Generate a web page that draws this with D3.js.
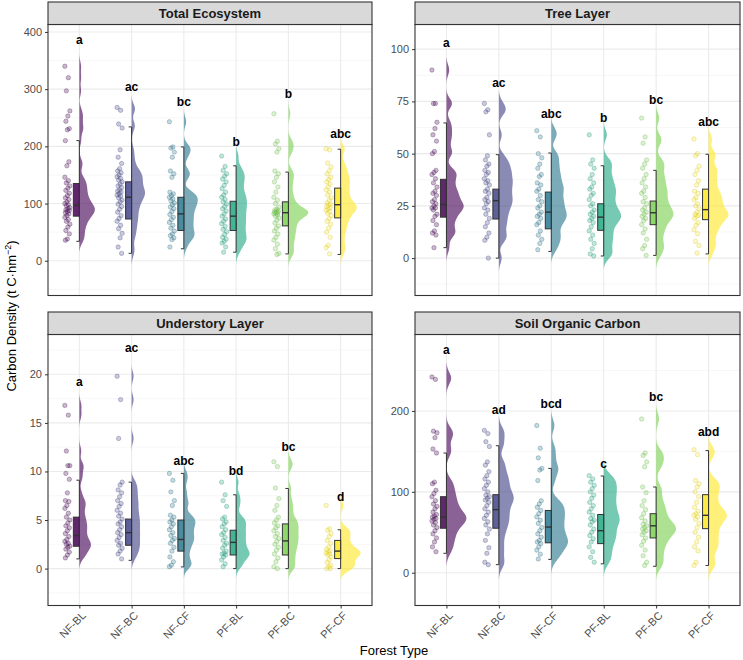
<!DOCTYPE html>
<html>
<head>
<meta charset="utf-8">
<script src="https://cdn.jsdelivr.net/npm/d3@7"></script>
<style>
  body { margin: 0; background: #fff; }
  svg { font-family: "Liberation Sans", Arial, sans-serif; }
  .tick text { fill: #4d4d4d; font-size: 11px; }
  .tick line { stroke: #333; }
</style>
</head>
<body>
<div id="chart"></div>
<script>
const categories = ['NF-BL', 'NF-BC', 'NF-CF', 'PF-BL', 'PF-BC', 'PF-CF'];
const colors = ['#440154', '#414487', '#2A788E', '#22A884', '#7AD151', '#FDE725'];
const panelTitles = ['Total Ecosystem', 'Tree Layer', 'Understory Layer', 'Soil Organic Carbon'];

// Total Ecosystem
const totalPoints = [
  [340, 320, 297, 262, 253, 244, 231, 229, 210, 173, 166, 146, 140, 136, 131, 127, 123, 118, 114, 110, 107, 103, 100, 98, 96, 93, 91, 89, 88, 86, 84, 82, 79, 76, 72, 69, 64, 59, 53, 47, 38, 36],
  [268, 263, 239, 232, 194, 181, 170, 161, 157, 154, 150, 147, 144, 141, 138, 134, 131, 128, 124, 122, 120, 117, 115, 113, 110, 106, 103, 99, 95, 90, 85, 79, 74, 69, 62, 56, 48, 40, 24, 13],
  [243, 199, 197, 190, 181, 157, 152, 146, 120, 117, 114, 111, 108, 105, 101, 98, 94, 91, 86, 81, 76, 72, 67, 62, 57, 52, 47, 44, 40, 37, 24],
  [183, 165, 158, 152, 148, 143, 138, 132, 126, 120, 115, 111, 107, 103, 99, 95, 91, 87, 82, 78, 73, 69, 65, 60, 55, 51, 46, 41, 38, 34, 31, 24, 15],
  [257, 209, 204, 196, 190, 157, 152, 146, 138, 129, 120, 111, 106, 100, 94, 90, 89, 87, 86, 85, 84, 83, 82, 80, 78, 75, 71, 66, 61, 57, 52, 47, 41, 36, 29, 21, 13, 11],
  [196, 194, 171, 164, 157, 152, 146, 142, 138, 134, 129, 124, 120, 115, 110, 106, 101, 99, 97, 95, 93, 91, 88, 86, 83, 79, 74, 69, 64, 57, 50, 41, 27, 23, 12]
];
const totalBox = [[34, 78, 97, 135, 210], [13, 73, 111, 138, 234], [21, 53, 82, 111, 199], [15, 53, 78, 104, 166], [12, 61, 84, 103, 155], [11, 75, 98, 127, 195]];
const totalLetters = ['a', 'ac', 'bc', 'b', 'b', 'abc'];
const totalLetterY = [387, 304, 278, 208, 292, 222];
const totalTicks = [0, 100, 200, 300, 400];

// Tree Layer
const treePoints = [
  [90, 74, 74, 65, 62, 59, 56, 51, 50, 42, 41, 40, 38, 36, 34, 32, 31, 30, 28, 27, 26, 25, 24, 24, 23, 21, 20, 18, 16, 13, 12, 11, 5],
  [74, 71, 70, 59, 49, 47, 45, 44, 42, 41, 40, 38, 37, 36, 35, 33, 32, 31, 29, 28, 27, 26, 24, 23, 21, 19, 17, 15, 12, 10, 8.5, 0],
  [61, 58, 50, 48, 45, 43, 40, 39, 36, 35, 33, 32, 30, 28, 27, 25, 24, 22, 21, 20, 19, 17, 16, 13, 11, 9, 7, 4],
  [59, 47, 45, 43, 40, 38, 36, 34, 33, 31, 30, 28, 26, 25, 23, 22, 21, 20, 19, 18, 17, 15, 13, 11, 9, 7, 4.5, 2, 1],
  [67, 58, 55, 47, 45, 43, 40, 38, 36, 34, 32, 31, 29, 27, 26, 24, 23, 22, 21, 20, 19, 18, 16, 14, 12, 9, 6, 4.5, 1.3],
  [57, 50, 49, 44, 42, 40, 37, 35, 32, 31, 29, 28, 26, 25, 23.5, 22, 21, 20.5, 20, 19, 17, 15.7, 13.6, 11.7, 8, 6, 2.4]
];
const treeBox = [[5, 19.6, 25.7, 37.7, 64.7], [0, 18.7, 27.5, 33, 49.5], [3.2, 14, 22, 31.6, 50.3], [1, 13.3, 19.6, 26, 44.2], [1.3, 16, 21.7, 27.3, 42], [2, 18.4, 23.2, 33, 49.7]];
const treeLetters = ['a', 'ac', 'abc', 'b', 'bc', 'abc'];
const treeLetterY = [103, 84, 69, 67, 76, 65];
const treeTicks = [0, 25, 50, 75, 100];

// Understory Layer
const underPoints = [
  [16.8, 15.8, 12.1, 10.6, 10.6, 9.8, 9.2, 7.8, 7.0, 6.9, 6.5, 6.2, 5.7, 5.3, 5.0, 4.7, 4.4, 4.2, 3.9, 3.6, 3.3, 3.0, 2.8, 2.6, 2.5, 2.3, 2.2, 2.0, 1.7, 1.4, 1.1],
  [19.8, 17.4, 13.4, 8.9, 8.6, 8.1, 7.8, 7.4, 7.0, 6.7, 6.4, 6.0, 5.7, 5.4, 5.1, 4.8, 4.6, 4.3, 4.0, 3.7, 3.5, 3.2, 2.9, 2.6, 2.4, 2.1, 1.8, 1.5, 1.0],
  [9.8, 9.1, 7.9, 7.0, 6.5, 5.5, 5.3, 5.0, 4.8, 4.6, 4.3, 4.0, 3.7, 3.4, 3.1, 2.9, 2.6, 2.2, 1.8, 1.2, 0.7, 0.35, 0.2],
  [8.9, 7.6, 7.0, 6.4, 5.3, 5.1, 4.8, 4.6, 4.3, 4.0, 3.7, 3.5, 3.2, 2.9, 2.6, 2.4, 2.1, 1.8, 1.6, 1.5, 1.4, 1.2, 0.9, 0.5, 0.2],
  [11.0, 10.5, 8.3, 7.2, 6.5, 6.0, 5.3, 5.0, 4.7, 4.4, 4.2, 3.9, 3.6, 3.3, 3.1, 2.8, 2.5, 2.2, 1.9, 1.5, 1.1, 0.7, 0.2, 0],
  [6.5, 4.1, 3.95, 3.6, 3.3, 2.9, 2.6, 2.2, 2.0, 1.8, 1.7, 1.6, 1.5, 1.4, 1.2, 0.9, 0.65, 0.35, 0.2, 0, 0]
];
const underBox = [[1.0, 2.3, 3.4, 5.3, 9.1], [0.85, 2.4, 3.7, 5.1, 8.9], [0.17, 1.8, 3.0, 5.0, 9.8], [0, 1.4, 2.7, 3.95, 7.6], [0, 1.4, 2.85, 4.6, 8.25], [0, 1.03, 1.8, 2.9, 4.0]];
const underLetters = ['a', 'ac', 'abc', 'bd', 'bc', 'd'];
const underLetterY = [19.2, 22.7, 11.1, 10.1, 12.5, 7.4];
const underTicks = [0, 5, 10, 15, 20];

// Soil Organic Carbon
const soilPoints = [
  [242, 239, 175, 173, 167, 153, 148, 112, 110, 102, 98, 94, 89, 85, 82, 79, 75, 72, 70, 69, 67, 66, 64, 62, 59, 56, 52, 48, 43, 38, 32, 26],
  [176, 172, 162, 156, 137, 133, 125, 120, 116, 112, 108, 104, 100, 96, 94, 92, 90, 87, 83, 79, 75, 71, 67, 63, 59, 54, 48, 40, 31, 24, 13, 10],
  [182, 154, 142, 129, 127, 114, 89, 85, 81, 77, 73, 69, 65, 61, 56, 52, 48, 44, 40, 38, 36, 32, 28, 23, 17],
  [120, 116, 112, 108, 104, 100, 96, 92, 87, 83, 79, 75, 71, 67, 65, 63, 59, 54, 50, 46, 42, 38, 32, 26, 19, 13],
  [190, 148, 145, 137, 131, 106, 99, 89, 83, 78, 73, 68, 64, 60, 58, 56, 54, 52, 50, 47, 43, 39, 34, 28, 21, 13, 9],
  [152, 146, 114, 110, 106, 100, 94, 87, 81, 76, 73, 71, 69, 66, 61, 56, 50, 44, 38, 32, 27, 13, 9]
];
const soilBox = [[24, 55, 69, 94, 148], [10, 55, 78, 96.5, 157], [16.5, 37, 56.5, 77, 129], [11, 36, 52, 72, 119.6], [8, 43, 58, 73, 106], [9, 54.5, 71, 96.5, 151]];
const soilLetters = ['a', 'ad', 'bcd', 'c', 'bc', 'abd'];
const soilLetterY = [276, 201, 209, 135, 217, 174];
const soilTicks = [0, 100, 200];

const width = 743;
const height = 660;

const panels = [
  { title: panelTitles[0], points: totalPoints, box: totalBox, letters: totalLetters, letterY: totalLetterY, ticks: totalTicks,
    domain: [-60.7, 413], bw: 8, x: 48, y: 24.5, w: 324, h: 271, xAxis: false },
  { title: panelTitles[1], points: treePoints, box: treeBox, letters: treeLetters, letterY: treeLetterY, ticks: treeTicks,
    domain: [-17.9, 111.8], bw: 2.4, x: 415, y: 24.5, w: 325, h: 271, xAxis: false },
  { title: panelTitles[2], points: underPoints, box: underBox, letters: underLetters, letterY: underLetterY, ticks: underTicks,
    domain: [-3.8, 24.1], bw: 0.45, x: 48, y: 334.5, w: 324, h: 271, xAxis: true },
  { title: panelTitles[3], points: soilPoints, box: soilBox, letters: soilLetters, letterY: soilLetterY, ticks: soilTicks,
    domain: [-40.5, 294.5], bw: 7, x: 415, y: 334.5, w: 325, h: 271, xAxis: true }
];

const svg = d3.select('#chart')
  .append('svg')
  .attr('width', width)
  .attr('height', height);

const gauss = (u) => Math.exp(-0.5 * u * u) / Math.sqrt(2 * Math.PI);

function kde(values, bw) {
  const lo = d3.min(values) - 2.5 * bw;
  const hi = d3.max(values) + 2.5 * bw;
  return d3.range(101).map(i => {
    const g = lo + (hi - lo) * i / 100;
    return [g, d3.mean(values, v => gauss((g - v) / bw)) / bw];
  });
}

// small fixed horizontal jitter pattern for the points
const jitter = (i) => ((i * 7) % 11) / 10 - 0.5;

panels.forEach(p => {
  const g = svg.append('g').attr('transform', `translate(${p.x},${p.y})`);

  const x = d3.scalePoint().domain(categories).range([0, p.w]).padding(0.6);
  const y = d3.scaleLinear().domain(p.domain).range([p.h, 0]);

  // grid
  const step = p.ticks[1] - p.ticks[0];
  const minor = d3.range(p.ticks[0] - step / 2, p.domain[1], step).filter(v => v > p.domain[0]);
  g.selectAll('.minor').data(minor).enter().append('line')
    .attr('x1', 0).attr('x2', p.w)
    .attr('y1', d => y(d)).attr('y2', d => y(d))
    .attr('stroke', '#f2f2f2').attr('stroke-width', 0.6);
  g.selectAll('.major').data(p.ticks).enter().append('line')
    .attr('x1', 0).attr('x2', p.w)
    .attr('y1', d => y(d)).attr('y2', d => y(d))
    .attr('stroke', '#ebebeb').attr('stroke-width', 1.1);
  g.selectAll('.xgrid').data(categories).enter().append('line')
    .attr('x1', d => x(d)).attr('x2', d => x(d))
    .attr('y1', 0).attr('y2', p.h)
    .attr('stroke', '#ebebeb').attr('stroke-width', 1.1);

  // violins (area scaled over the panel)
  const dens = p.points.map(v => kde(v, p.bw));
  const maxD = d3.max(dens, d => d3.max(d, e => e[1]));
  const maxW = 20;
  dens.forEach((d, i) => {
    const cx = x(categories[i]);
    const area = d3.area()
      .x0(cx)
      .x1(e => cx + e[1] / maxD * maxW)
      .y(e => y(e[0]))
      .curve(d3.curveBasis);
    g.append('path')
      .datum(d)
      .attr('d', area)
      .attr('fill', colors[i])
      .attr('fill-opacity', 0.62);
  });

  // points
  p.points.forEach((vals, i) => {
    const cx = x(categories[i]) - 12;
    const c = d3.color(colors[i]);
    g.selectAll(null).data(vals).enter().append('circle')
      .attr('cx', (d, j) => cx + jitter(j) * 5)
      .attr('cy', d => y(d))
      .attr('r', 2.2)
      .attr('fill', colors[i])
      .attr('fill-opacity', 0.28)
      .attr('stroke', c.darker(0.6))
      .attr('stroke-opacity', 0.4)
      .attr('stroke-width', 0.7);
  });

  // box plots with error-bar whiskers
  p.box.forEach((b, i) => {
    const cx = x(categories[i]);
    const bg = g.append('g').attr('stroke', '#333').attr('stroke-width', 1);
    bg.append('line').attr('x1', cx).attr('x2', cx).attr('y1', y(b[0])).attr('y2', y(b[4]));
    bg.append('line').attr('x1', cx - 3).attr('x2', cx).attr('y1', y(b[0])).attr('y2', y(b[0]));
    bg.append('line').attr('x1', cx - 3).attr('x2', cx).attr('y1', y(b[4])).attr('y2', y(b[4]));
    bg.append('rect')
      .attr('x', cx - 6).attr('width', 6)
      .attr('y', y(b[3])).attr('height', y(b[1]) - y(b[3]))
      .attr('fill', colors[i]).attr('fill-opacity', 0.85);
    bg.append('line').attr('x1', cx - 6).attr('x2', cx).attr('y1', y(b[2])).attr('y2', y(b[2]))
      .attr('stroke-width', 1.4);
  });

  // significance letters
  g.selectAll('.letter').data(p.letters).enter().append('text')
    .attr('x', (d, i) => x(categories[i]))
    .attr('y', (d, i) => y(p.letterY[i]))
    .attr('dy', '0.35em')
    .attr('text-anchor', 'middle')
    .attr('font-size', 12)
    .attr('font-weight', 'bold')
    .attr('fill', '#000')
    .text(d => d);

  // panel border
  g.append('rect')
    .attr('width', p.w).attr('height', p.h)
    .attr('fill', 'none').attr('stroke', '#333').attr('stroke-width', 1.1);

  // strip
  svg.append('rect')
    .attr('x', p.x).attr('y', p.y - 22.5)
    .attr('width', p.w).attr('height', 22.5)
    .attr('fill', '#d9d9d9').attr('stroke', '#333').attr('stroke-width', 1.1);
  svg.append('text')
    .attr('x', p.x + p.w / 2).attr('y', p.y - 11.2)
    .attr('dy', '0.35em')
    .attr('text-anchor', 'middle')
    .attr('font-size', 13)
    .attr('font-weight', 'bold')
    .attr('fill', '#1a1a1a')
    .text(p.title);

  // y axis
  const yAxis = g.append('g')
    .call(d3.axisLeft(y).tickValues(p.ticks).tickSize(3).tickPadding(3));
  yAxis.select('.domain').remove();

  // x axis
  if (p.xAxis) {
    const xAxis = g.append('g')
      .attr('transform', `translate(0,${p.h})`)
      .call(d3.axisBottom(x).tickSize(3));
    xAxis.select('.domain').remove();
    xAxis.selectAll('.tick text')
      .attr('text-anchor', 'end')
      .attr('dy', '0.35em')
      .attr('transform', 'translate(4,8) rotate(-45)')
      .attr('x', 0).attr('y', 0);
  }
});

svg.append('text')
  .attr('transform', 'translate(16,316) rotate(-90)')
  .attr('text-anchor', 'middle')
  .attr('font-size', 13)
  .attr('fill', '#000')
  .html('Carbon Density (t C·hm<tspan dy="-5" font-size="9">−2</tspan><tspan dy="5">)</tspan>');

svg.append('text')
  .attr('x', 394)
  .attr('y', 655)
  .attr('text-anchor', 'middle')
  .attr('font-size', 13)
  .attr('fill', '#000')
  .text('Forest Type');
</script>
</body>
</html>
